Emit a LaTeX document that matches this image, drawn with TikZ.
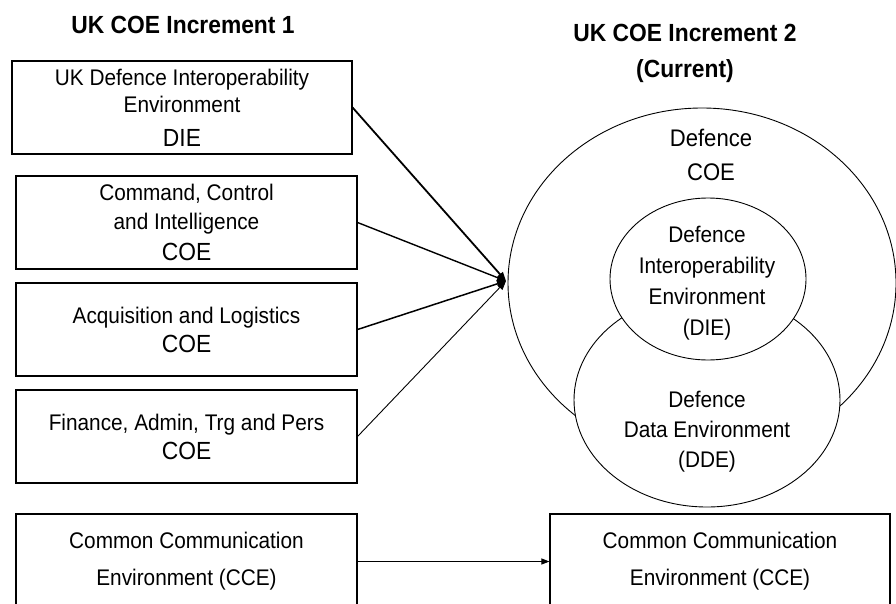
\documentclass[tikz,border=0pt]{standalone}
\usepackage{fontspec}
\setmainfont{Liberation Sans}[FakeStretch=0.92]
\usetikzlibrary{shapes.geometric,arrows.meta}

\begin{document}
\begin{tikzpicture}[x=1pt,y=-1pt,
  box/.style={draw, line width=1.1pt, minimum width=341pt, minimum height=93pt,
    inner sep=0pt, align=center, font=\fontsize{22.6}{29}\selectfont},
  title/.style={font=\bfseries\fontsize{24.8}{36}\selectfont, align=center},
  blob/.style={draw, line width=0.9pt, ellipse, inner sep=0pt},
  txt/.style={align=center, font=\fontsize{22.6}{31}\selectfont},
  feed/.style={-{Triangle[length=9pt,width=7pt]}},
  big/.style={font=\fontsize{24.8}{29}\selectfont}
]
\useasboundingbox (0,0) rectangle (896,604);

% headings
\node[title] (t1) at (183,25) {UK COE Increment 1};
\node[title] (t2) at (685,53) {UK COE Increment 2\\(Current)};

% increment 1 boxes
\node[box, minimum width=340pt] (die1) at (182,107.5)
  {UK Defence Interoperability\\[-2pt] Environment\\[5pt]{\fontsize{24.8}{29}\selectfont DIE}};
\node[box] (c2i) at (186.5,222.5)
  {Command, Control\\ and Intelligence\\[2pt]{\fontsize{24.8}{29}\selectfont COE}};
\node[box] (acq) at (186.5,329.5)
  {Acquisition and Logistics\\{\fontsize{24.8}{29}\selectfont COE}};
\node[box] (fin) at (186.5,436.5)
  {Finance, Admin, Trg and Pers\\{\fontsize{24.8}{29}\selectfont COE}};
\node[box, minimum height=95pt] (cce1) at (186.5,561.5)
  {Common Communication\\[8pt] Environment (CCE)};

% increment 2: nested environments
\node[blob, minimum width=388pt, minimum height=350pt] (coe) at (702,283) {};
\node[blob, fill=white, minimum width=266pt, minimum height=214pt] (dde) at (707,400) {};
\node[blob, fill=white, minimum width=196pt, minimum height=162pt] (die2) at (708,279) {};

\node[txt, font=\fontsize{24}{34}\selectfont] (coetxt) at (711,155) {Defence\\COE};
\node[txt] (dietxt) at (707,283) {Defence\\Interoperability\\Environment\\(DIE)};
\node[txt, font=\fontsize{22.6}{30}\selectfont] (ddetxt) at (707,432) {Defence\\Data Environment\\(DDE)};

\node[box, minimum width=340pt, minimum height=95pt] (cce2) at (720,561.5)
  {Common Communication\\[8pt] Environment (CCE)};

% connectors
\coordinate (hub) at (506,281);
\draw[feed, line width=1.8pt] (die1.east) -- (hub);
\draw[feed, line width=1.4pt] (c2i.east) -- (hub);
\draw[feed, line width=1.5pt] (acq.east) -- (hub);
\draw[feed, line width=0.9pt] (fin.east) -- (hub);
\draw[-{Triangle[length=8pt,width=6pt]}, line width=1pt] (cce1.east) -- (cce2.west);
\end{tikzpicture}
\end{document}
